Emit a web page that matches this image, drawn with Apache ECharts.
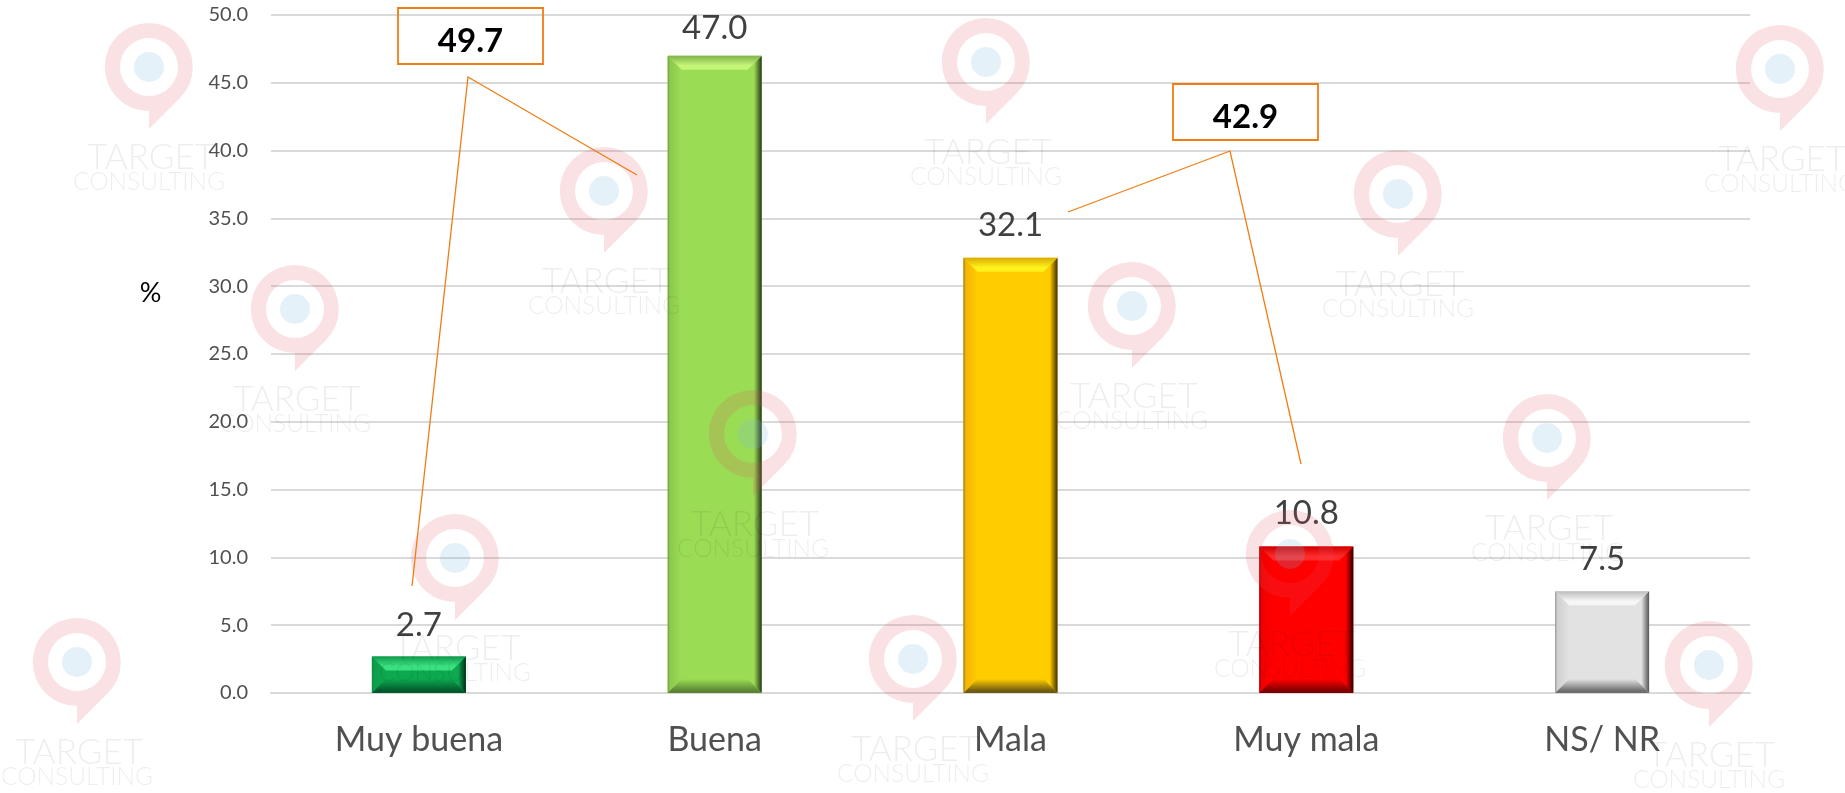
<!DOCTYPE html>
<html>
<head>
<meta charset="utf-8">
<style>html,body{margin:0;padding:0;background:#fff}#c{width:1845px;height:793px}</style>
<script src="https://cdn.jsdelivr.net/npm/echarts@6/dist/echarts.min.js"></script>
</head>
<body>
<div id="c"></div>
<script>
const categories = ['Muy buena', 'Buena', 'Mala', 'Muy mala', 'NS/ NR'];
const values = [2.7, 47.0, 32.1, 10.8, 7.5];
const yTicks = { min: 0, max: 50, interval: 5 };
const unitLabel = '%';
const callout1 = '49.7';
const callout2 = '42.9';
const watermarkWords = ['TARGET', 'CONSULTING'];

// Bevel colours: base, edge of top, inner of top, left edge, right edge, bottom edge, left inner
const palettes = [
  ['#0da850', '#0f9a4c', '#3be081', '#0a8a42', '#002c14', '#00592b', '#0c9e4b'],
  ['#9bdc55', '#7fb24a', '#c4f577', '#6c9a3e', '#27361a', '#5a8433', '#8cc84c'],
  ['#ffcc00', '#d9ab00', '#fff21c', '#8a7428', '#3d3000', '#6e5a10', '#f5b400'],
  ['#ff0000', '#d00000', '#ff2a2a', '#990000', '#2c0000', '#7c0000', '#f00000'],
  ['#e2e2e2', '#bdbdbd', '#f6f6f6', '#8f8f8f', '#555555', '#6d6d6d', '#d0d0d0']
];
const labelGaps = [15, 11, 16, 17, 15];
const barW = 94;
const bevel = 14;

const pinCentres = [[149,67],[604,191],[295,309],[753,434],[455,558],[77,662],[913,659],
  [986,62],[1398,194],[1132,306],[1547,438],[1290,554],[1709,665],[1780,69]];
const pinPath = 'M0,44 A44,44 0 1,1 31,31 L0,62 Z M29,0 A29,29 0 1,0 -29,0 A29,29 0 1,0 29,0 Z';
const dotPath = 'M15,0 A15,15 0 1,1 -15,0 A15,15 0 1,1 15,0 Z';

const orange = '#f07d12';
const graphics = [];
function callout(text, box, pts) {
  graphics.push({ type: 'rect', z: 110, shape: { x: box[0], y: box[1], width: box[2], height: box[3] }, style: { fill: 'rgba(255,255,255,0)', stroke: orange, lineWidth: 1.8 } });
  graphics.push({ type: 'text', x: box[0] + box[2] / 2, y: box[1] + box[3] / 2 + 5, z: 111, style: { text, font: 'bold 33px Lato', fill: '#000', textAlign: 'center', textVerticalAlign: 'middle' } });
  graphics.push({ type: 'polyline', z: 110, shape: { points: pts }, style: { fill: 'none', stroke: orange, lineWidth: 1.3 } });
}
callout(callout1, [398, 8, 145, 56], [[412, 586], [468, 77], [637, 175]]);
callout(callout2, [1173, 84, 145, 56], [[1068, 212], [1230, 151], [1301, 464]]);
graphics.push({ type: 'text', x: 150.5, y: 293, z: 111, style: { text: unitLabel, font: '27px Lato', fill: '#000', textAlign: 'center', textVerticalAlign: 'middle' } });

function grad(x, y, x2, y2, stops) {
  return { type: 'linear', x, y, x2, y2, colorStops: stops.map(([offset, color]) => ({ offset, color })) };
}
function renderBevel(params, api) {
  const i = api.value(0);
  const top = api.coord([i, api.value(1)]);
  const base = api.coord([i, 0]);
  const p = palettes[i];
  const l = top[0] - barW / 2, r = top[0] + barW / 2, t = top[1], b = base[1];
  const bv = Math.min(bevel, (b - t) / 2);
  const il = l + bv, ir = r - bv, it = t + bv, ib = b - bv;
  return {
    type: 'group',
    children: [
      { type: 'polygon', shape: { points: [[l, t], [il, it], [il, ib], [l, b]] }, style: { fill: grad(0, 0, 1, 0, [[0, p[3]], [0.15, p[6]], [1, p[0]]]) } },
      { type: 'polygon', shape: { points: [[r, t], [ir, it], [ir, ib], [r, b]] }, style: { fill: grad(0, 0, 1, 0, [[0, p[0]], [0.45, p[0]], [1, p[4]]]) } },
      { type: 'polygon', shape: { points: [[l, t], [r, t], [ir, it], [il, it]] }, style: { fill: grad(0, 0, 0, 1, [[0, p[1]], [0.7, p[2]], [1, p[2]]]) } },
      { type: 'polygon', shape: { points: [[l, b], [r, b], [ir, ib], [il, ib]] }, style: { fill: grad(0, 0, 0, 1, [[0, p[0]], [0.85, p[5]], [1, p[5]]]) } }
    ]
  };
}
function renderWatermark(params, api) {
  const x = api.value(0), y = api.value(1);
  return {
    type: 'group',
    x, y,
    children: [
      { type: 'path', shape: { pathData: pinPath }, style: { fill: 'rgba(226,80,95,0.17)' } },
      { type: 'path', shape: { pathData: dotPath }, style: { fill: 'rgba(120,185,225,0.2)' } },
      { type: 'text', x: 2, y: 91, style: { text: watermarkWords[0], font: '300 35px Lato', fill: 'rgba(0,0,0,0.07)', textAlign: 'center', textVerticalAlign: 'middle' } },
      { type: 'text', x: 0, y: 115, style: { text: watermarkWords[1], font: '300 24.5px Lato', fill: 'rgba(0,0,0,0.07)', textAlign: 'center', textVerticalAlign: 'middle' } }
    ]
  };
}

const chart = echarts.init(document.getElementById('c'), null, { renderer: 'canvas' });
chart.setOption({
  animation: false,
  backgroundColor: '#fff',
  grid: { left: 271, right: 95, top: 15, bottom: 100, containLabel: false },
  xAxis: {
    type: 'category', data: categories,
    axisTick: { show: false },
    axisLine: { lineStyle: { color: '#d9d9d9', width: 2 } },
    axisLabel: { fontFamily: 'Lato', fontSize: 34, color: '#505050', margin: 30 }
  },
  yAxis: {
    type: 'value', min: yTicks.min, max: yTicks.max, interval: yTicks.interval,
    axisLine: { show: false }, axisTick: { show: false },
    splitLine: { lineStyle: { color: '#d9d9d9', width: 2 } },
    axisLabel: { fontFamily: 'Lato', fontSize: 20, color: '#505050', margin: 23, formatter: v => v.toFixed(1) }
  },
  series: [
    {
      type: 'bar', barWidth: barW, z: 3,
      data: values.map((v, i) => ({
        value: v,
        itemStyle: { color: palettes[i][0] },
        label: { distance: labelGaps[i] }
      })),
      label: { show: true, position: 'top', fontFamily: 'Lato', fontSize: 33, color: '#404040', formatter: p => p.value.toFixed(1) }
    },
    {
      type: 'custom', z: 4, silent: true,
      renderItem: renderBevel,
      encode: { x: 0, y: 1 },
      data: values.map((v, i) => [i, v])
    },
    {
      type: 'custom', z: 20, silent: true, coordinateSystem: 'none',
      renderItem: renderWatermark,
      data: pinCentres
    }
  ],
  graphic: { elements: graphics }
});
</script>
</body>
</html>
